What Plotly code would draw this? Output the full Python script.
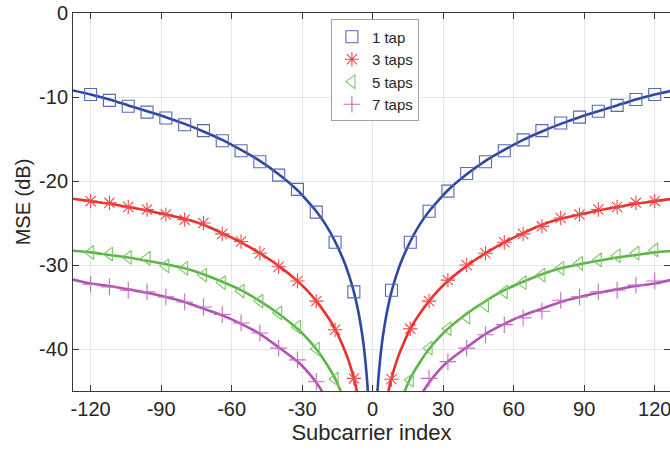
import plotly.graph_objects as go

# ---- data ----
# one-sided subcarrier grid for the curves (mirrored to negative side)
K_LINE = [1, 2, 3, 4, 5, 6, 8, 10, 12, 16, 20, 24, 28, 32, 40, 48, 56, 64,
          72, 80, 88, 96, 104, 112, 120, 128]
TAP1_LINE = [-51.2, -45.2, -41.7, -39.2, -37.3, -35.7, -33.2, -31.3, -29.7, -27.2,
             -25.2, -23.6, -22.3, -21.1, -19.2, -17.6, -16.3, -15.1, -14.1, -13.2,
             -12.4, -11.7, -11.0, -10.3, -9.7, -9.2]
TAP3_LINE = [-60.0, -56.0, -52.0, -49.5, -47.6, -46.0, -43.5, -41.6, -40.1, -37.6,
             -35.8, -34.3, -33.0, -31.9, -30.1, -28.6, -27.3, -26.2, -25.2, -24.5,
             -24.0, -23.5, -23.1, -22.7, -22.4, -22.1]
TAP5_LINE = [-70.0, -66.0, -62.0, -59.0, -56.0, -54.0, -51.0, -48.5, -46.3, -43.5,
             -41.6, -40.0, -38.7, -37.6, -35.8, -34.3, -33.0, -32.0, -31.1, -30.4,
             -29.9, -29.5, -29.1, -28.8, -28.5, -28.3]
TAP7_LINE = [-75.0, -71.0, -67.0, -64.0, -61.5, -60.0, -58.0, -55.0, -52.5, -48.5,
             -45.8, -44.0, -42.6, -41.5, -39.8, -38.2, -37.0, -36.0, -35.2, -34.4,
             -33.8, -33.3, -32.9, -32.5, -32.2, -31.7]

# simulated points (markers)
MK_L = [-120, -112, -104, -96, -88, -80, -72, -64, -56, -48, -40, -32, -24, -16, -8]
MK_R = [8, 16, 24, 32, 40, 48, 56, 64, 72, 80, 88, 96, 104, 112, 120]
TAP1_MK_L = [-9.7, -10.4, -11.1, -11.8, -12.5, -13.3, -14.0, -15.2, -16.4, -17.7,
             -19.3, -21.0, -23.7, -27.3, -33.2]
TAP1_MK_R = [-33.0, -27.3, -23.6, -21.2, -19.1, -17.7, -16.4, -15.1, -14.0, -13.1,
             -12.4, -11.7, -11.0, -10.3, -9.7]
TAP3_MK_L = [-22.4, -22.6, -23.1, -23.4, -24.0, -24.6, -25.0, -26.3, -27.2, -28.6,
             -30.2, -31.9, -34.3, -37.7, -43.5]
TAP3_MK_R = [-43.6, -37.6, -34.3, -31.8, -30.0, -28.6, -27.3, -26.3, -25.4, -24.4,
             -24.0, -23.4, -23.1, -22.6, -22.4]
TAP5_MK_L = [-28.5, -28.7, -29.1, -29.2, -30.1, -30.4, -31.2, -32.1, -33.1, -34.3,
             -35.7, -37.4, -40.0, -43.6]
TAP5_MK_R = [-43.7, -39.9, -37.6, -36.2, -34.8, -33.2, -32.1, -31.2, -30.4, -29.8,
             -29.4, -28.9, -28.6, -28.2]
TAP7_MK_L = [-32.3, -32.6, -33.0, -33.2, -33.8, -34.4, -35.0, -35.9, -36.9, -38.1,
             -39.9, -41.3, -43.9]
TAP7_MK_R = [-43.5, -41.5, -39.9, -38.3, -37.1, -36.3, -35.5, -34.2, -33.8, -33.2,
             -33.0, -32.4, -31.9]

NAMES = ["1 tap", "3 taps", "5 taps", "7 taps"]
X_TICKS = [-120, -90, -60, -30, 0, 30, 60, 90, 120]
X_TICK_TEXT = ["-120", "-90", "-60", "-30", "0", "30", "60", "90", "120"]
Y_TICKS = [0, -10, -20, -30, -40]
Y_TICK_TEXT = ["0", "-10", "-20", "-30", "-40"]

LINE_COLORS = ["#2E48A2", "#E8312B", "#5CB646", "#B052B0"]
MK_COLORS = ["#5868B4", "#EE4848", "#7CC66A", "#C46CC4"]
SYMBOLS = ["square-open", "asterisk-open", "triangle-left-open", "cross-thin-open"]

x_line = [-k for k in reversed(K_LINE)] + K_LINE
lines = [TAP1_LINE, TAP3_LINE, TAP5_LINE, TAP7_LINE]
mk_sets = [
    (MK_L + MK_R, TAP1_MK_L + TAP1_MK_R),
    (MK_L + MK_R, TAP3_MK_L + TAP3_MK_R),
    (MK_L[:len(TAP5_MK_L)] + MK_R[1:], TAP5_MK_L + TAP5_MK_R),
    (MK_L[:len(TAP7_MK_L)] + MK_R[2:], TAP7_MK_L + TAP7_MK_R),
]

fig = go.Figure()
for i in range(4):
    y_line = list(reversed(lines[i])) + lines[i]
    fig.add_trace(go.Scatter(
        x=x_line, y=y_line, mode="lines", showlegend=False,
        line=dict(color=LINE_COLORS[i], width=2.6, shape="spline", smoothing=0.6),
        hoverinfo="skip"))
for i in range(4):
    mx, my = mk_sets[i]
    fig.add_trace(go.Scatter(
        x=mx, y=my, mode="markers", name=NAMES[i],
        marker=dict(symbol=SYMBOLS[i], size=12, color=MK_COLORS[i],
                    line=dict(width=1.1, color=MK_COLORS[i]))))

axis_common = dict(
    showline=True, linecolor="#3a3a3a", linewidth=1, mirror="ticks",
    ticks="inside", ticklen=6, tickcolor="#3a3a3a", tickwidth=1,
    showgrid=True, gridcolor="#e6e6e6", gridwidth=1, zeroline=False,
    ticklabeloverflow="allow",
    tickfont=dict(family="Liberation Sans, Arial", size=20, color="#262626"),
)

fig.update_layout(
    width=670, height=450,
    margin=dict(l=73, r=0, t=13, b=59),
    paper_bgcolor="white", plot_bgcolor="white",
    font=dict(family="Liberation Sans, Arial", color="#262626"),
    xaxis=dict(range=[-127.5, 126.5], tickvals=X_TICKS, ticktext=X_TICK_TEXT,
               title=dict(text="Subcarrier index", standoff=2,
                          font=dict(size=22, color="#262626")),
               **axis_common),
    yaxis=dict(range=[-45, 0], tickvals=Y_TICKS, ticktext=Y_TICK_TEXT,
               title=dict(text="MSE (dB)", standoff=3,
                          font=dict(size=20, color="#262626")),
               **axis_common),
    legend=dict(x=0.432, y=0.983, xanchor="left", yanchor="top",
                bgcolor="white", bordercolor="#a0a0a0", borderwidth=1,
                font=dict(size=15, color="#262626"),
                tracegroupgap=0, itemwidth=30),
    showlegend=True,
)

fig.write_html("out.html")
